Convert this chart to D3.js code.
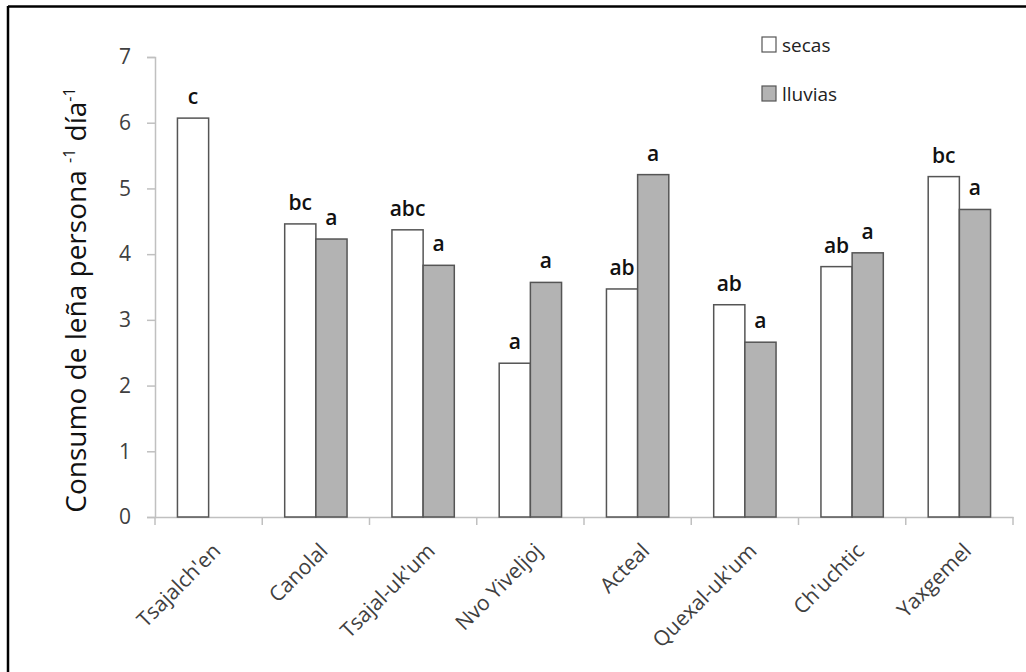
<!DOCTYPE html>
<html>
  <head>
    <script src="https://d3js.org/d3.v7.min.js"></script>
    <style>
      body { margin: 0; background: #fff; }
      text { font-family: "Open Sans", "DejaVu Sans", sans-serif; }
    </style>
  </head>
  <body>
    <svg width="1026" height="672"></svg>
    <script>
      // communities and the two seasons
      const communities = ["Tsajalch'en", "Canolal", "Tsajal-uk'um", "Nvo Yiveljoj", "Acteal", "Quexal-uk'um", "Ch'uchtic", "Yaxgemel"];
      const seasons = ["secas", "lluvias"];
      const secas = [6.07, 4.46, 4.37, 2.34, 3.47, 3.23, 3.81, 5.18];
      const lluvias = [null, 4.23, 3.83, 3.57, 5.21, 2.66, 4.02, 4.68];
      const secasLetters = ["c", "bc", "abc", "a", "ab", "ab", "ab", "bc"];
      const lluviasLetters = [null, "a", "a", "a", "a", "a", "a", "a"];
      const yTicks = [0, 1, 2, 3, 4, 5, 6, 7];

      const svg = d3.select("svg");

      // frame (only top and left edges visible)
      svg.append("line").attr("x1", 8).attr("y1", 6.5).attr("x2", 1026).attr("y2", 6.5)
        .attr("stroke", "#000").attr("stroke-width", 2.5);
      svg.append("line").attr("x1", 8).attr("y1", 6).attr("x2", 8).attr("y2", 672)
        .attr("stroke", "#000").attr("stroke-width", 2.5);

      const margin = { left: 155, top: 57, right: 13, bottom: 155 };
      const width = 1026 - margin.left - margin.right;
      const height = 517 - margin.top;

      const g = svg.append("g").attr("transform", `translate(${margin.left},${margin.top})`);

      const x = d3.scaleBand().domain(communities).range([0, width]).paddingInner(0).paddingOuter(0);
      const x1 = d3.scaleBand().domain(seasons).range([0, x.bandwidth()]).paddingInner(0).paddingOuter(0.72);
      const y = d3.scaleLinear().domain([0, 7]).range([height, 0]);

      const axisColor = "#c0c0c0";

      // y axis
      const yAxis = g.append("g").call(d3.axisLeft(y).tickValues(yTicks).tickFormat(d3.format("d")).tickSize(8).tickPadding(16));
      yAxis.select(".domain").attr("stroke", axisColor).attr("stroke-width", 1.5);
      yAxis.selectAll(".tick line").attr("stroke", axisColor).attr("stroke-width", 1.5);
      yAxis.selectAll(".tick text").attr("fill", "#404040").style("font-size", "21px");

      // x axis with ticks at band edges
      const xAxis = g.append("g").attr("transform", `translate(0,${height})`)
        .call(d3.axisBottom(x).tickSize(0).tickPadding(0));
      xAxis.select(".domain").attr("stroke", axisColor).attr("stroke-width", 1.5);
      xAxis.selectAll(".tick text")
        .attr("fill", "#404040")
        .style("font-size", "21px")
        .attr("text-anchor", "end")
        .attr("transform", "translate(8,30) rotate(-45)")
        .attr("dy", "0.35em");
      g.selectAll(".xtick")
        .data(d3.range(communities.length + 1))
        .enter().append("line")
        .attr("x1", i => i * x.step()).attr("x2", i => i * x.step())
        .attr("y1", height).attr("y2", height + 8)
        .attr("stroke", axisColor).attr("stroke-width", 1.5);

      // bars
      const barStyle = { secas: "#ffffff", lluvias: "#b3b3b3" };
      const rows = [];
      communities.forEach((c, i) => {
        rows.push({ c, s: "secas", v: secas[i], l: secasLetters[i] });
        if (lluvias[i] != null) rows.push({ c, s: "lluvias", v: lluvias[i], l: lluviasLetters[i] });
      });

      g.selectAll(".bar")
        .data(rows)
        .enter().append("rect")
        .attr("class", "bar")
        .attr("x", d => x(d.c) + x1(d.s))
        .attr("y", d => y(d.v))
        .attr("width", x1.bandwidth())
        .attr("height", d => height - y(d.v))
        .attr("fill", d => barStyle[d.s])
        .attr("stroke", "#555")
        .attr("stroke-width", 1.5);

      g.selectAll(".letter")
        .data(rows)
        .enter().append("text")
        .attr("x", d => x(d.c) + x1(d.s) + x1.bandwidth() / 2)
        .attr("y", d => y(d.v) - 14)
        .attr("text-anchor", "middle")
        .attr("fill", "#111")
        .style("font-size", "21px")
        .style("font-weight", "600")
        .text(d => d.l);

      // y axis title
      const title = svg.append("text")
        .attr("transform", "translate(86,300) rotate(-90)")
        .attr("text-anchor", "middle")
        .attr("fill", "#111")
        .style("font-size", "28px");
      title.append("tspan").text("Consumo de leña persona ");
      title.append("tspan").attr("dy", -11).style("font-size", "16px").text("-1");
      title.append("tspan").attr("dy", 11).text(" día");
      title.append("tspan").attr("dy", -11).style("font-size", "16px").text("-1");

      // legend
      const legend = svg.append("g").attr("transform", "translate(762,37)");
      seasons.forEach((s, i) => {
        const row = legend.append("g").attr("transform", `translate(0,${i * 49})`);
        row.append("rect").attr("width", 14).attr("height", 15)
          .attr("fill", barStyle[s]).attr("stroke", "#555").attr("stroke-width", 1.2);
        row.append("text").attr("x", 20).attr("y", 15)
          .attr("fill", "#222").style("font-size", "19px").text(s);
      });
    </script>
  </body>
</html>
